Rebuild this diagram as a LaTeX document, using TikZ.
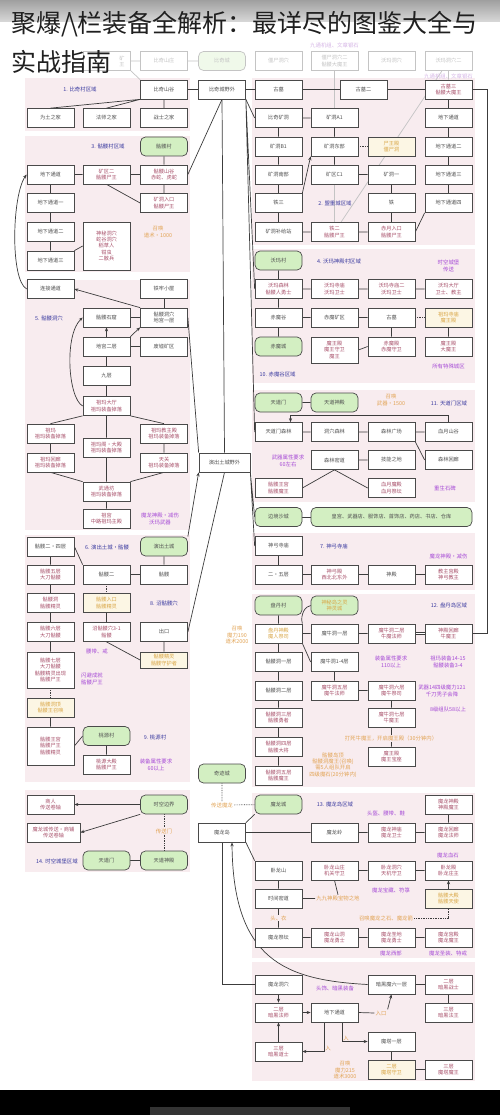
\documentclass[tikz,border=0pt]{standalone}
\usepackage{fontspec}
\newfontfamily\cjk{Noto Sans CJK SC}
\usetikzlibrary{arrows.meta,backgrounds}
\pgfdeclarelayer{conn}
\pgfsetlayers{background,conn,main}
\definecolor{bdc}{HTML}{4A4A4A}
\definecolor{lnc}{HTML}{3C3C3C}
\definecolor{gfill}{HTML}{D3EFC2}
\definecolor{yfill}{HTML}{FCF6E4}
\definecolor{ytx}{HTML}{D9A646}
\definecolor{pinkbg}{HTML}{F8ECEF}
\definecolor{txd}{HTML}{505050}
\definecolor{txr}{HTML}{A8506A}
\definecolor{blu}{HTML}{3B3BA0}
\definecolor{purp}{HTML}{A64BD6}
\definecolor{org}{HTML}{E2A455}
\definecolor{fdc}{HTML}{C4C4C4}
\definecolor{fdp}{HTML}{D6B6E6}
\newcommand\bxf{\cjk\fontsize{5.2}{6.2}\selectfont}
\newcommand\lbf{\cjk\fontsize{5.4}{6.4}\selectfont}
\tikzset{
 bx/.style={draw=bdc, fill=white, line width=0.7pt, minimum width=47pt, minimum height=19pt, inner sep=1pt, align=center, text=txd, font=\bxf},
 rd/.style={text=txr},
 gb/.style={bx, fill=gfill, rounded corners=5pt, text=txd},
 yb/.style={bx, fill=yfill, text=ytx},
 fb/.style={bx, draw=fdc, text=fdc},
 fgb/.style={fb, rounded corners=5pt, fill=gfill!35},
 reg/.style={text=blu, font=\lbf},
 pur/.style={text=purp, font=\lbf, align=center, inner sep=1pt},
 org/.style={text=org, font=\lbf, align=center, inner sep=1pt},
 lk/.style={draw=lnc, line width=0.7pt},
 dlk/.style={lk, densely dotted}
}
\begin{document}
\begin{tikzpicture}[x=1pt,y=-1pt,>={Stealth[length=4pt,width=3.2pt]}]
\path[use as bounding box] (0,0) rectangle (500,1115);
% ---------- backgrounds ----------
\begin{pgfonlayer}{background}
\fill[white] (0,0) rectangle (500,1115);
\shade[top color=gray!75, bottom color=gray!30] (0,0) rectangle (500,22);
\fill[pinkbg] (25,78) rectangle (190,131);
\fill[pinkbg] (25,136) rectangle (190,272);
\fill[pinkbg] (25,280) rectangle (190,530);
\fill[pinkbg] (25,535) rectangle (190,782);
\fill[pinkbg] (25,790) rectangle (190,872);
\fill[pinkbg] (252,78) rectangle (475,245);
\fill[pinkbg] (252,249) rectangle (475,383);
\fill[pinkbg] (252,390) rectangle (475,502);
\fill[pinkbg] (252,533) rectangle (475,590);
\fill[pinkbg] (252,594) rectangle (475,787);
\fill[pinkbg] (252,793) rectangle (475,958);
\fill[pinkbg] (252,962) rectangle (475,1081);
\fill[black] (0,1090) rectangle (500,1115);
\fill[black!80] (150,1107) rectangle (350,1115);
\end{pgfonlayer}
% ---------- faded top row ----------
\node[fb] (f1) at (107,61) {};
\node[font=\bxf, text=fdc, align=right, inner sep=0pt] (f1t) at (122,61) {矿\\王};
\node[fb] (f2) at (164,61) {比奇山庄};
\node[fgb] (f3) at (222,61) {比奇城};
\node[fb] (f4) at (278.5,61) {僵尸洞穴};
\node[fb] (f5) at (334.5,61) {僵尸洞穴二\\骷髅大魔王};
\node[fb] (f6) at (391.5,61) {沃玛洞穴};
\node[fb] (f7) at (448.5,61) {沃玛洞穴二};
\node[font=\lbf, text=fdp] (fp1) at (334.5,45) {九通机组、文章银石};
\node[font=\lbf, text=fdp] (fp2) at (448.5,76) {九通机组、文章银石};
% ---------- upper left ----------
\node[reg] (l1) at (80,89.5) {1. 比奇村区域};
\node[bx] (bqsg) at (164,89.5) {比奇山谷};
\node[bx] (bqcy) at (222,89.5) {比奇城野外};
\node[bx] (a2) at (50.5,118) {为土之家};
\node[bx] (b2) at (106.5,118) {法师之家};
\node[bx] (c2) at (164,118) {战士之家};
\node[reg] (l3) at (108,146.5) {3. 骷髅村区域};
\node[gb] (c3) at (164,146.5) {骷髅村};
\node[bx] (a4) at (50.5,174.5) {地下通道};
\node[bx,rd] (b4) at (106.5,174.5) {矿区二\\骷髅尸王};
\node[bx,rd] (c4) at (164,174.5) {骷髅山谷\\赤蛇、虎蛇};
\node[bx] (a5) at (50.5,203) {地下通道一};
\node[bx,rd] (c5) at (164,203) {矿洞入口\\骷髅尸王};
\node[bx] (a6) at (50.5,232) {地下通道二};
\node[bx,rd,minimum height=48pt] (b6) at (106.5,246) {神秘洞穴\\蛇谷洞穴\\稻草人\\钳虫\\二散兵};
\node[org] (o6) at (158,232) {召唤\\道术・1000};
\node[bx] (a7) at (50.5,260.5) {地下通道三};
\node[bx] (a8) at (50.5,289) {连接通道};
\node[bx] (c8) at (164,289) {铁牢小屋};
\node[reg] (l5) at (49,318) {5. 骷髅洞穴};
\node[bx] (b9) at (106.5,317.5) {骷髅石窟};
\node[bx] (c9) at (164,317.5) {骷髅洞穴\\地宫一层};
\node[bx] (b10) at (106.5,346.5) {地宫二层};
\node[bx] (c10) at (164,346.5) {废墟矿区};
\node[bx] (b11) at (106.5,376) {九层};
\node[bx,rd] (b12) at (106.5,406) {祖玛大厅\\祖玛装备掉落};
\node[bx,rd] (a13) at (50.5,433.5) {祖玛\\祖玛装备掉落};
\node[bx,rd] (b13) at (106.5,447.5) {祖玛阁・大殿\\祖玛装备掉落};
\node[bx,rd] (c13) at (164,433.5) {祖玛教主殿\\祖玛装备掉落};
\node[bx,rd] (a14) at (50.5,462.5) {祖玛回廊\\祖玛装备掉落};
\node[bx,rd] (c14) at (164,462.5) {天关\\祖玛装备掉落};
\node[bx,minimum width=51pt] (d14) at (224.5,462.5) {演出土城野外};
\node[bx,rd] (b15) at (106.5,491.5) {武通坊\\祖玛装备掉落};
\node[bx,rd] (b16) at (106.5,518.5) {祖宫\\中路祖玛主殿};
\node[pur] (p16) at (160,519) {魔龙神殿・减伤\\沃玛武器};
% ---------- upper right ----------
\node[bx] (gm1) at (278.5,89.5) {古墓};
\node[bx] (gm2) at (363.5,89.5) {古墓二};
\node[bx,rd] (gm3) at (448.5,89.5) {古墓三\\骷髅大魔王};
\node[bx] (e2) at (278.5,118) {比奇矿洞};
\node[bx] (f2b) at (334.5,118) {矿洞A1};
\node[bx] (h2) at (448.5,118) {地下通道};
\node[bx] (e3) at (278.5,146.5) {矿洞B1};
\node[bx] (f3b) at (334.5,146.5) {矿洞东部};
\node[yb] (g3) at (391.5,146.5) {尸王殿\\僵尸洞};
\node[bx] (h3) at (448.5,146.5) {地下通道二};
\node[bx] (e4) at (278.5,174.5) {矿洞南部};
\node[bx] (f4) at (334.5,174.5) {矿区C1};
\node[bx] (g4) at (391.5,174.5) {矿洞一};
\node[bx] (h4) at (448.5,174.5) {地下通道三};
\node[bx] (e5) at (278.5,203) {铁三};
\node[reg] (l2) at (335,203) {2. 盟重城区域};
\node[bx] (g5) at (391.5,203) {铁};
\node[bx] (h5) at (448.5,203) {地下通道四};
\node[bx] (e6) at (278.5,232) {矿洞补给站};
\node[bx,rd] (f6) at (334.5,232) {铁二\\骷髅尸王};
\node[bx,rd] (g6) at (391.5,232) {赤月入口\\骷髅尸王};
\node[gb] (e7) at (278.5,260.5) {沃玛村};
\node[reg] (l4) at (339,261) {4. 沃玛神殿村区域};
\node[pur] (p7) at (448.5,266) {时空城堡\\传送};
\node[bx,rd] (e8) at (278.5,289) {沃玛森林\\骷髅人勇士};
\node[bx,rd] (f8) at (334.5,289) {沃玛寺庙\\沃玛卫士};
\node[bx,rd] (g8) at (391.5,289) {沃玛寺庙二\\沃玛卫士};
\node[bx,rd] (h8) at (448.5,289) {沃玛大厅\\卫士、教主};
\node[bx] (e9) at (278.5,317.5) {赤魔谷};
\node[bx] (f9) at (334.5,317.5) {赤魔矿区};
\node[bx] (g9) at (391.5,317.5) {古墓};
\node[yb] (h9) at (448.5,317.5) {祖玛寺庙\\魔王殿};
\node[gb] (e10) at (278.5,346.5) {赤魔城};
\node[bx,rd,minimum height=26pt] (f10) at (334.5,350) {魔王殿\\魔王守卫\\魔王};
\node[bx,rd] (g10) at (391.5,346.5) {赤魔殿\\赤魔守卫};
\node[bx,rd] (h10) at (448.5,346.5) {魔王殿\\大魔王};
\node[pur] (p10) at (448.5,366) {所有特殊城区};
\node[reg,anchor=west] (l10) at (256,374) {10. 赤魔谷区域};
% region 11
\node[gb] (e11a) at (278.5,402.5) {天道门};
\node[gb] (f11a) at (334.5,402.5) {天道神殿};
\node[org] (o11) at (391,400) {召唤\\武器・1500};
\node[reg] (l11) at (449,403) {11. 天道门区域};
\node[bx] (e11) at (278.5,432) {天道门森林};
\node[bx] (f11) at (334.5,432) {洞穴森林};
\node[bx] (g11) at (391.5,432) {森林广场};
\node[bx] (h11) at (448.5,432) {血月山谷};
\node[pur] (p12) at (288,461) {武器属性要求\\60左右};
\node[bx] (f12) at (334.5,460) {森林密道};
\node[bx] (g12) at (391.5,460) {技能之地};
\node[bx] (h12) at (448.5,460) {森林回廊};
\node[bx,rd] (e13) at (278.5,488) {骷髅王宫\\骷髅魔王};
\node[bx,rd] (g13) at (391.5,488) {血月魔殿\\血月祭坛};
\node[pur] (p13) at (445,488) {重生石碑};
\node[gb] (e14r) at (278.5,517) {边境沙城};
\node[gb,minimum width=161pt] (fsh) at (391.5,517) {皇宫、武器店、服饰店、首饰店、药店、书店、仓库};
% region 7
\node[bx] (e15) at (278.5,546) {神弓寺庙};
\node[reg] (l7) at (334,546) {7. 神弓寺庙};
\node[pur] (p15) at (448.5,556) {魔龙神殿・减伤};
\node[bx] (e16) at (278.5,574.5) {二・五层};
\node[bx,rd] (f16) at (334.5,574.5) {神弓殿\\西北北东外};
\node[bx] (g16) at (391.5,574.5) {神殿};
\node[bx,rd] (h16) at (448.5,574.5) {教主宫殿\\神弓教主};
% region 12
\node[gb] (e17) at (278.5,605.5) {盘丹村};
\node[gb,text=ytx] (f17) at (334.5,605.5) {神秘岛之灵\\神灵城};
\node[reg] (l12) at (449,605.5) {12. 盘丹岛区域};
\node[bx,text=ytx] (e18) at (278.5,633.5) {盘丹神殿\\魔人祭司};
\node[bx] (f18) at (334.5,633.5) {魔牛洞一层};
\node[bx,rd] (g18) at (391.5,633.5) {魔牛洞二层\\牛魔法师};
\node[bx,rd] (h18) at (448.5,633.5) {神殿回廊\\牛魔王};
\node[bx] (e19) at (278.5,662) {骷髅洞一层};
\node[bx] (f19) at (334.5,662) {魔牛洞1-4层};
\node[pur] (p19) at (391,662) {装备属性要求\\110以上};
\node[pur] (p19b) at (448,662) {祖玛装备14-15\\骷髅装备3-4};
\node[bx] (e20) at (278.5,690.5) {骷髅洞二层};
\node[bx,rd] (f20) at (334.5,690.5) {魔牛洞五层\\魔牛法师};
\node[bx,rd] (g20) at (391.5,690.5) {魔牛洞六层\\魔牛祭司};
\node[pur] (p20) at (442,691) {武器14四级魔力121\\千刀秃子会降};
\node[pur] (p20b) at (448,709) {8级组队58以上};
\node[bx,rd] (e21) at (278.5,717.5) {骷髅洞三层\\骷髅勇者};
\node[bx,rd] (g21) at (391.5,717.5) {魔牛洞七层\\牛魔王};
\node[org,fill=pinkbg] (o21) at (391,738.5) {打死牛魔王，开启魔王殿（30分钟内）};
\node[bx,rd] (e22) at (278.5,747) {骷髅洞四层\\骷髅大将};
\node[bx,rd] (g22) at (391.5,756.5) {魔王殿\\魔王宝座};
\node[bx,rd] (e23) at (278.5,775.5) {骷髅洞五层\\骷髅魔王};
\node[org] (o23) at (333,765) {骷髅岛顶\\骷髅洞魔王(召唤)\\需5人组队开启\\四级魔石(20分钟内)};
% region 13
\node[gb] (e24) at (278.5,804.5) {魔龙城};
\node[reg] (l13) at (335,804.5) {13. 魔龙岛区域};
\node[bx,rd] (h24) at (448.5,804.5) {魔龙神殿\\神殿魔王};
\node[pur] (p24) at (386,813) {头盔、腰带、鞋};
\node[bx] (d25) at (222,832.5) {魔龙岛};
\node[bx] (f25) at (334.5,832.5) {魔龙岭};
\node[bx,rd] (g25) at (391.5,832.5) {魔龙神庙\\魔龙卫士};
\node[bx,rd] (h25) at (448.5,832.5) {魔龙回廊\\魔龙法师};
\node[pur] (p25) at (448,855) {魔龙血石};
\node[bx] (e26) at (278.5,870.5) {卧龙山};
\node[bx,rd] (f26) at (334.5,870.5) {卧龙山庄\\机关守卫};
\node[bx,rd] (g26) at (391.5,870.5) {卧龙洞穴\\天机守卫};
\node[bx,rd] (h26) at (448.5,870.5) {卧龙殿\\卧龙庄主};
\node[pur] (p26) at (391,890) {魔龙宝藏、符箓};
\node[bx] (e27) at (278.5,898.5) {时间密道};
\node[yb] (h27) at (448.5,898.5) {骷髅大殿\\骷髅天使};
\node[org] (o27) at (338,898.5) {九九神殿宝物之地};
\node[org,fill=pinkbg] (o28a) at (278.5,918) {头、衣};
\node[org] (o28b) at (386,918) {召唤魔龙之石、魔龙箭};
\coordinate (c28) at (448.5,918);
\node[bx] (e28) at (278.5,937.5) {魔龙祭坛};
\node[bx,rd] (f28) at (334.5,937.5) {魔龙山洞\\魔龙勇士};
\node[bx,rd] (g28) at (391.5,937.5) {魔龙圣地\\魔龙勇士};
\node[bx,rd] (h28) at (448.5,937.5) {魔龙宫殿\\魔龙魔王};
\node[pur] (p28) at (391,953) {魔龙西部};
\node[pur] (p28b) at (448,953) {魔龙圣装、特戒};
% bottom
\node[bx] (e29) at (278.5,984.5) {魔龙洞穴};
\node[pur] (p29) at (335,988) {头饰、暗黑装备};
\node[bx] (g29) at (391.5,984.5) {暗黑魔六一层};
\node[bx,rd] (h29) at (448.5,984.5) {二层\\暗黑战士};
\node[bx,rd] (e30) at (278.5,1012.5) {二层\\暗黑法师};
\node[bx] (f30) at (334.5,1012.5) {地下通道};
\node[org] (o30) at (381,1013) {入口};
\node[bx,rd] (h30) at (448.5,1012.5) {三层\\暗黑法王};
\node[bx] (g31) at (391.5,1041.5) {魔塔一层};
\node[org] (o31a) at (328,1048) {入};
\node[org] (o31b) at (346,1038) {入};
\node[bx,rd] (e31) at (278.5,1051.5) {三层\\暗黑道士};
\node[yb] (g32) at (391.5,1069.5) {二层\\魔塔守卫};
\node[bx,rd] (h32) at (448.5,1069.5) {三层\\魔塔魔王};
\node[org] (o32) at (345,1070) {召唤\\魔力215\\道术3000};
% ---------- lower left ----------
\node[bx] (a33) at (50.5,546.5) {骷髅二・四层};
\node[reg] (l6) at (107,547) {6. 演出土城・骷髅};
\node[gb] (c33) at (164,546.5) {演出土城};
\node[bx,rd] (a34) at (50.5,574.5) {骷髅五层\\大刀骷髅};
\node[bx] (b34) at (106.5,574.5) {骷髅二};
\node[bx] (c34) at (164,574.5) {骷髅};
\node[bx,rd] (a35) at (50.5,603) {骷髅洞\\骷髅精灵};
\node[yb] (b35) at (106.5,603) {骷髅入口\\骷髅精灵};
\node[reg] (l8) at (164,603) {8. 沼骷髅穴};
\node[bx,rd] (a36) at (50.5,632) {骷髅六层\\大刀骷髅};
\node[bx,rd] (b36) at (106.5,632) {沼骷髅穴3-1\\骷髅};
\node[bx] (c36) at (164,632) {出口};
\node[org] (o36) at (237,635) {召唤\\魔力190\\道术2000};
\node[pur] (p36) at (97,651) {腰带、戒};
\node[yb,minimum height=16pt] (c37) at (164,660) {骷髅精灵\\骷髅守护者};
\node[bx,rd,minimum height=36pt] (a37) at (50.5,670) {骷髅七层\\大刀骷髅\\骷髅精灵出现\\骷髅尸王};
\node[pur] (p37) at (92,679) {闪避成就\\骷髅尸王};
\node[yb] (a38) at (50.5,707.5) {骷髅洞顶\\骷髅王召唤};
\node[bx,rd,minimum height=38pt] (a39) at (50.5,746) {骷髅王宫\\骷髅尸王\\骷髅精灵};
\node[gb] (b39) at (106.5,736) {桃源村};
\node[reg] (l9) at (155,737) {9. 桃源村};
\node[bx,rd] (b40) at (106.5,764.5) {桃源大殿\\骷髅尸王};
\node[pur] (p40) at (156,765) {装备属性要求\\60以上};
\node[gb] (d40) at (222,773.5) {奇迹城};
\node[org] (o40) at (222,805) {传送魔龙};
% region 14
\node[bx,rd] (a41) at (50.5,804.5) {商人\\传送卷轴};
\node[bx,rd,minimum width=53pt] (a42) at (53.5,832.5) {魔龙城传送・商铺\\传送卷轴};
\node[gb] (c41) at (164,804.5) {时空边界};
\node[org,fill=pinkbg] (o41) at (164,831) {传送门};
\node[gb] (b43) at (106.5,860.5) {天道门};
\node[gb] (c43) at (164,860.5) {天道神殿};
\node[reg] (l14) at (57,861) {14. 时空城堡区域};
% ---------- connectors ----------
\begin{pgfonlayer}{conn}
\draw[lk,draw=fdc] (f1)--(f2) (f2)--(f3) (f4)--(f5) (f5)--(f6) (f6)--(f7) (f7)--(gm3) (f1.south east)--(bqsg.north west);
\draw[lk] (bqsg)--(bqcy) (bqcy)--(gm1) (gm1)--(gm2) (gm2)--(gm3);
\draw[lk] (bqsg.south west)--(a2.north) (bqsg.south west)--(b2.north) (bqsg)--(c2);
\draw[lk] (bqcy.south east)--(e2.west);
\draw[lk] (e2)--(f2b) (e2)--(e3) (e3)--(e4) (e4)--(e5) (e5)--(e6) (f2b)--(f3b) (f3b)--(f4) (f4)--(g4) (g4)--(g5) (g5)--(g6) (e6)--(f6) (f6)--(g6) (h5.south west)--(g6.east);
\draw[dlk] (f3b)--(g3);
\draw[lk] (gm3)--(h2) (h2)--(h3) (h3)--(h4) (h4)--(h5);
\draw[lk] (gm3.east) -- ++(14.5,0) |- (h18.east);
\draw[lk,->] (e5.north east)--(f3b.south west);
\draw[lk] (bqcy.south)--(c4.east);
\draw[lk] (c3)--(c4) (a4)--(b4) (b4)--(c4) (c4)--(c5) (b4.south)--(c5.west);
\draw[lk] (a4)--(a5) (a5)--(a6) (a6)--(a7) (a7.north east)--(b6.west);
\draw[lk,->] (a8.west) .. controls (10,280) and (12,195) .. (a4.west);
\draw[lk,->] (c9.north west)--(a8.east);
\draw[lk] (c8)--(c9) (b9)--(c9) (b10)--(c10) (b10)--(b11) (b11)--(b12);
\draw[lk,->] (b10)--(b9);
\draw[lk,->] (b10.north east)--(c9.south west);
\draw[lk,->] (b12.west) .. controls (68,398) and (64,335) .. (b9.west);
\draw[lk] (b12.south west)--(a13.north) (b12.south east)--(c13.north) (b12)--(b13) (a13)--(a14) (c13)--(c14) (a14.south)--(b15.north west) (c14.south)--(b15.north east) (b13)--(b15) (b15)--(b16);
\draw[lk] (bqcy.south)--(d14.north) (c9.east)--(d14.north west);
\draw[lk] (bqcy.south east)--(e8.west) (bqcy.south east)--(e11.west);
\draw[lk] (d14.south east)--(e14r.west) (d14.south east)--(e15.west) (c36.east)--(d14.south);
\draw[lk,->] (c33.north east)--(d14.south west);
% region 4
\draw[lk] (e7)--(e8) (e8)--(e9) (e9)--(e10) (e8)--(f8) (f8)--(g8) (g8)--(h8) (e9)--(f9) (f9)--(g9) (h9)--(h10) (g9)--(g10) (g10.west)--(f10.east);
\draw[dlk] (g9)--(h9);
% region 11
\draw[lk] (e11a)--(f11a) (e11)--(f11) (f11)--(g11) (g11)--(h11) (g11.south east)--(h12.west) (f12)--(g12) (f12.south)--(e13.east) (f12.south)--(g13.west);
\draw[lk,->] (h11.north) -- ++(0,-7) -| ([xshift=12pt]e11.north);
\draw[lk] (e14r)--(fsh);
% region 7
\draw[lk] (e15)--(e16) (e16)--(f16) (f16)--(g16) (g16)--(h16);
% region 12
\draw[lk] (e17)--(e18) (e18)--(f18) (f18)--(g18) (e18.south east)--(f19.west) (e19)--(e18) (e19)--(e20) (e20)--(e21) (e21)--(e22) (e22)--(e23) (f19)--(f20) (f20)--(g20) (g20)--(g21) (g21)--(g22);
\draw[lk] (e18.north east) .. controls (300,615) and (305,606) .. (f17.west);
\draw[lk,double,double distance=1.2pt,line width=0.5pt] (g18)--(h18);
% region 13
\draw[dlk] (d40)--(o40) (o40)--(e24);
\draw[lk] (d25.north east)--(e24.south west) (d25)--(f25) (f25)--(g25) (g25)--(h25) (h24)--(h25) (d25.south east)--(e26.north west) (e26)--(e27) (e27)--(e28) (f26)--(g26) (g26)--(h26) (e28)--(f28) (f28)--(g28) (g28)--(h28);
\draw[lk] (e27.east)--(o27.west) (f26.south)--(o27.north);
\draw[lk,->] (h27)--(h26);
\draw[dlk] (o28b.east)--(c28) (c28)--(h27.south);
% bottom
\draw[lk,->] (e29)--(e30);
\draw[lk,->] (e31)--(e30);
\draw[lk,->] (e30)--(f30);
\draw[lk,->] ([xshift=-10pt]f30.south) |- (e31.east);
\draw[lk,->] ([xshift=8pt]f30.south) |- (g31.west);
\draw[lk] (f30.east)--(o30.west);
\draw[lk,->] (o30.north east)--(g29.south);
\draw[lk] (g29)--(h29) (h29)--(h30) (g31)--(g32) (g32)--(h32);
\draw[lk,->] (g29.west) .. controls (285,980) and (233,960) .. ([xshift=10pt]d25.south);
\draw[lk] (d25.south) |- (e29.west);
% lower left
\draw[lk] (a33)--(a34) (a34)--(a35) (a35)--(a36) (a36)--(a37) (a38)--(a39) (a33.east)--(b34.north west) (b34)--(c34) (c34)--(c33) (b35)--(b36) (b36.south)--(c37.west) (c36)--(c37);
\draw[dlk] (a37)--(a38) (b34)--(b35);
\draw[lk] (a39.east)--(b39.west) (b39)--(b40);
% region 14
\draw[lk,->] (c41.west)--(a41.east);
\draw[lk,->] (c41.south west)--(a42.east);
\draw[dlk] (c41)--(o41) (o41)--(c43);
\draw[lk] (b43)--(c43);
\end{pgfonlayer}
% ---------- title ----------
\node[anchor=west, inner sep=0pt, text=black!88, font=\cjk\fontsize{25}{30}\selectfont] (t1) at (11,24) {聚爆/\kern-3pt\textbackslash 栏装备全解析：最详尽的图鉴大全与};
\node[anchor=west, inner sep=0pt, text=black!88, font=\cjk\fontsize{25}{30}\selectfont] (t2) at (11,62) {实战指南};
\end{tikzpicture}
\end{document}
